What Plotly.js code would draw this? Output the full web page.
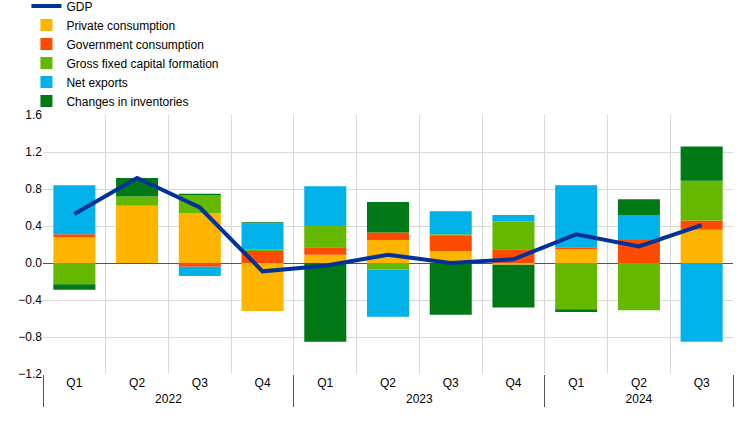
<!DOCTYPE html>
<html>
<head>
<meta charset="utf-8">
<script src="https://cdn.plot.ly/plotly-3.0.1.min.js"></script>
<style>html,body{margin:0;padding:0;background:#fff}#chart{width:742px;height:421px}</style>
</head>
<body>
<div id="chart"></div>
<script>
const years = ['2022','2022','2022','2022','2023','2023','2023','2023','2024','2024','2024'];
const quarters = ['Q1','Q2','Q3','Q4','Q1','Q2','Q3','Q4','Q1','Q2','Q3'];
const gdp = [0.53, 0.92, 0.60, -0.09, -0.03, 0.09, 0.00, 0.04, 0.31, 0.18, 0.41];
const privateConsumption = [0.28, 0.62, 0.54, -0.52, 0.09, 0.25, 0.13, -0.02, 0.15, 0.00, 0.36];
const governmentConsumption = [0.03, 0.00, -0.04, 0.13, 0.08, 0.08, 0.17, 0.15, 0.02, 0.25, 0.10];
const grossFixedCapital = [-0.23, 0.10, 0.19, 0.02, 0.24, -0.07, 0.01, 0.30, -0.50, -0.51, 0.43];
const netExports = [0.53, 0.00, -0.10, 0.28, 0.42, -0.51, 0.25, 0.07, 0.67, 0.27, -0.85];
const inventories = [-0.06, 0.20, 0.02, 0.01, -0.85, 0.33, -0.56, -0.46, -0.03, 0.17, 0.37];

const x = [years, quarters];
function bar(name, y, color, rank) {
  return {type: 'bar', name: name, x: x, y: y, legendrank: rank,
          marker: {color: color, line: {width: 0}}};
}
const traces = [
  bar('Private consumption', privateConsumption, '#FFB400', 2),
  bar('Government consumption', governmentConsumption, '#FF4B00', 3),
  bar('Gross fixed capital formation', grossFixedCapital, '#65B800', 4),
  bar('Net exports', netExports, '#00B1EA', 5),
  bar('Changes in inventories', inventories, '#007816', 6),
  {type: 'scatter', mode: 'lines', name: 'GDP', x: x, y: gdp, legendrank: 1,
   line: {color: '#003299', width: 4}}
];

const layout = {
  width: 742, height: 421,
  margin: {l: 43, r: 9, t: 115, b: 47, pad: 0, autoexpand: false},
  paper_bgcolor: '#fff', plot_bgcolor: '#fff',
  font: {family: 'Liberation Sans, Arial, sans-serif', size: 12, color: '#000'},
  barmode: 'relative',
  bargap: 0.33,
  showlegend: true,
  legend: {
    x: -0.024, xanchor: 'left', y: 1.477, yanchor: 'top',
    traceorder: 'normal', itemwidth: 30,
    font: {size: 12, color: '#000'},
    bgcolor: 'rgba(0,0,0,0)'
  },
  xaxis: {
    type: 'multicategory',
    showgrid: true, gridcolor: '#d9d9d9', gridwidth: 1,
    showdividers: true, dividercolor: '#555', dividerwidth: 1,
    tickson: 'boundaries',
    ticks: 'outside', ticklen: 0,
    showline: false,
    tickfont: {size: 12, color: '#000'}
  },
  yaxis: {
    range: [-1.2, 1.6], dtick: 0.4, tick0: 0, tickformat: '.1f',
    showgrid: true, gridcolor: '#d9d9d9', gridwidth: 1,
    zeroline: true, zerolinecolor: '#555', zerolinewidth: 1,
    ticks: '', ticklen: 0, showline: false,
    tickfont: {size: 12, color: '#000'}
  }
};

Plotly.newPlot('chart', traces, layout, {displayModeBar: false, staticPlot: true});
</script>
</body>
</html>
